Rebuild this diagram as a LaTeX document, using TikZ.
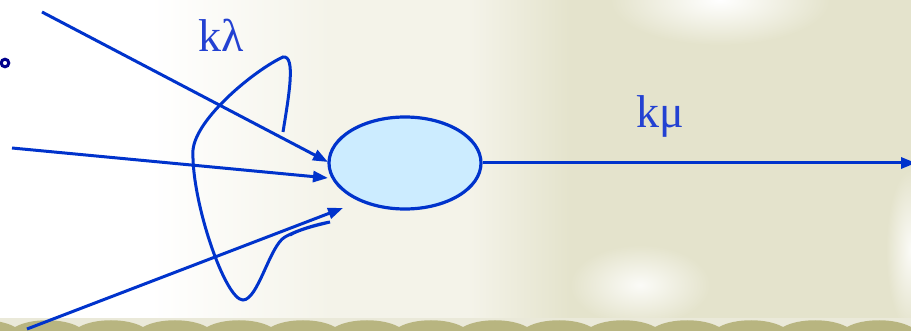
\documentclass[tikz,border=0pt]{standalone}
\usepackage{fontspec}
\setmainfont{Liberation Serif}
\usetikzlibrary{arrows.meta,shapes.geometric}
\definecolor{lnblue}{RGB}{0,51,204}
\definecolor{txtblue}{RGB}{35,65,210}
\definecolor{fillblue}{RGB}{204,236,255}
\definecolor{beige}{RGB}{228,227,204}
\definecolor{cream}{RGB}{244,243,233}
\definecolor{olive}{RGB}{184,181,128}
\definecolor{navy}{RGB}{0,0,140}
\begin{document}
\begin{tikzpicture}[x=1pt,y=-1pt,
  conn/.style={draw=lnblue, line width=3pt, -{Triangle[length=15pt,width=11pt]}},
  lbl/.style={text=txtblue, font=\fontsize{46}{50}\selectfont, inner sep=0pt, anchor=base west},
  queuebox/.style={ellipse, draw=lnblue, line width=3.2pt, fill=fillblue, minimum width=152pt, minimum height=92pt, inner sep=0pt},
  loopline/.style={draw=lnblue, line width=3pt}]
\useasboundingbox (0,0) rectangle (911,331);
% background
\fill[beige] (0,0) rectangle (911,331);
\shade[left color=cream, right color=beige] (470,0) rectangle (570,320);
\fill[cream] (330,0) rectangle (471,320);
\shade[left color=white, right color=cream] (150,0) rectangle (331,320);
\fill[white] (0,0) rectangle (151,320);
\shade[inner color=white, outer color=beige] (720,0) ellipse (110 and 45);
\shade[inner color=white!85!beige, outer color=beige] (640,285) ellipse (70 and 40);
\shade[inner color=white!85!beige, outer color=beige] (911,250) ellipse (25 and 80);
% bottom scalloped band
\fill[white!70!olive] (0,318) rectangle (911,331);
\foreach \i in {0,...,14}{
  \fill[olive] ({-49+64*\i},327) .. controls +(16,-9) and +(-16,-9) .. ++(64,0) -- ++(0,4) -- ++(-64,0) -- cycle;
}
% dot
\draw[navy, line width=3pt, fill=white] (5,63) circle (3.8);
% loop
\draw[loopline] (283,132) .. controls (289,95) and (296,55) .. (283,57)
  .. controls (255,70) and (196,118) .. (193,150)
  .. controls (191,200) and (225,300) .. (243,300)
  .. controls (258,300) and (270,245) .. (285,237)
  .. controls (297,230) and (318,224) .. (330,222)
  .. controls (318,225) and (300,229) .. (290,235);
% queue
\node[queuebox] (q) at (405,163) {};
% inputs
\coordinate (s1) at (42,12);  \coordinate (e1) at (328,162);
\coordinate (s2) at (12,148); \coordinate (e2) at (328,178);
\coordinate (s3) at (27,329); \coordinate (e3) at (343,208);
\coordinate (o) at (916,163);
\draw[conn] (s1) -- (e1);
\draw[conn] (s2) -- (e2);
\draw[conn] (s3) -- (e3);
\draw[conn] (q.east) -- (o);
% labels
\node[lbl] (kl) at (198,52) {kλ};
\node[lbl] (km) at (636,128) {kμ};
\end{tikzpicture}
\end{document}
